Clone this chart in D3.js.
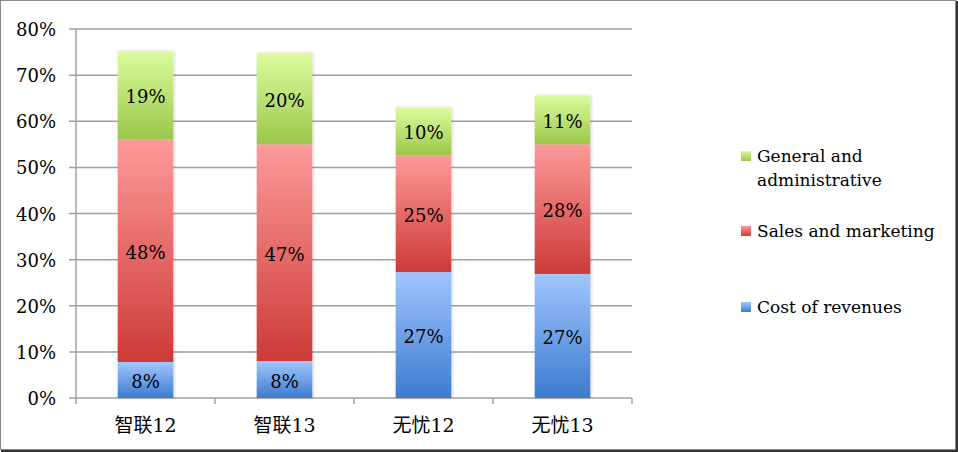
<!DOCTYPE html>
<html><head><meta charset="utf-8">
<script src="https://cdn.jsdelivr.net/npm/d3@7"></script>
<style>
html,body{margin:0;padding:0;background:#fff;}
svg{display:block;}
text{font-family:"DejaVu Serif","Noto Sans CJK SC",serif;fill:#000;}
</style></head>
<body>
<svg id="chart" width="958" height="452"></svg>
<script>
const categories = ["智联12", "智联13", "无忧12", "无忧13"];
const costOfRevenues = [0.078, 0.080, 0.273, 0.269];
const salesMarketing = [0.483, 0.470, 0.253, 0.281];
const generalAdmin = [0.191, 0.198, 0.104, 0.106];
const seriesNames = ["Cost of revenues", "Sales and marketing", "General and administrative"];
const yTicks = [0, 0.1, 0.2, 0.3, 0.4, 0.5, 0.6, 0.7, 0.8];

(function () {
const svg = d3.select("#chart");
const pL = 76, pR = 632, pT = 29, pB = 398;

const defs = svg.append("defs");
const grads = [
  {id: "gBlue", top: "#a0c6ff", bot: "#3d7bce"},
  {id: "gRed", top: "#fd9a9a", bot: "#cd3a37"},
  {id: "gGreen", top: "#dcfc9e", bot: "#9bc74a"}
];
grads.forEach(g => {
  const lg = defs.append("linearGradient").attr("id", g.id)
    .attr("x1", 0).attr("y1", 0).attr("x2", 0).attr("y2", 1);
  lg.append("stop").attr("offset", "0%").attr("stop-color", g.top);
  lg.append("stop").attr("offset", "100%").attr("stop-color", g.bot);
});
const f = defs.append("filter").attr("id", "shadow")
  .attr("x", "-20%").attr("y", "-10%").attr("width", "140%").attr("height", "120%");
f.append("feDropShadow").attr("dx", 1).attr("dy", 0).attr("stdDeviation", 1.5)
  .attr("flood-color", "#000").attr("flood-opacity", 0.18);

// frame
svg.append("rect").attr("x", 0.5).attr("y", 0.5).attr("width", 955).attr("height", 449)
  .attr("fill", "none").attr("stroke", "#8a8a8a").attr("stroke-width", 1);
svg.append("line").attr("x1", 957).attr("x2", 957).attr("y1", 1).attr("y2", 452)
  .attr("stroke", "#333").attr("stroke-width", 2);
svg.append("line").attr("x1", 1).attr("x2", 958).attr("y1", 451).attr("y2", 451)
  .attr("stroke", "#333").attr("stroke-width", 2);

const x = d3.scaleBand().domain(categories).range([pL, pR]).paddingInner(0.6).paddingOuter(0.3);
const y = d3.scaleLinear().domain([0, 0.8]).range([pB, pT]);

svg.append("g").selectAll("line").data(yTicks).join("line")
  .attr("x1", pL - 7).attr("x2", pR)
  .attr("y1", d => y(d)).attr("y2", d => y(d))
  .attr("stroke", "#a0a0a0").attr("stroke-width", 1.5);
svg.append("line").attr("x1", pL).attr("x2", pL).attr("y1", pT).attr("y2", pB)
  .attr("stroke", "#a0a0a0").attr("stroke-width", 1.5);
const fmt = d3.format(".0%");
svg.append("g").selectAll("text").data(yTicks).join("text")
  .attr("x", 56).attr("y", d => y(d) + 7)
  .attr("text-anchor", "end").attr("font-size", 18)
  .text(d => fmt(d));

const bounds = d3.range(categories.length + 1).map(i => pL + i * (pR - pL) / categories.length);
svg.append("g").selectAll("line").data(bounds).join("line")
  .attr("x1", d => d).attr("x2", d => d).attr("y1", pB).attr("y2", pB + 6)
  .attr("stroke", "#a0a0a0").attr("stroke-width", 1.5);
svg.append("g").selectAll("text").data(categories).join("text")
  .attr("x", d => x(d) + x.bandwidth() / 2).attr("y", 432)
  .attr("text-anchor", "middle").attr("font-size", 19)
  .text(d => d);

const rows = categories.map((c, i) => ({cat: c, cost: costOfRevenues[i], sales: salesMarketing[i], ga: generalAdmin[i]}));
const keys = ["cost", "sales", "ga"];
const stack = d3.stack().keys(keys)(rows);
const fills = ["url(#gBlue)", "url(#gRed)", "url(#gGreen)"];

const barG = svg.append("g").attr("filter", "url(#shadow)");
stack.forEach((s, si) => {
  barG.append("g").selectAll("rect").data(s).join("rect")
    .attr("x", d => x(d.data.cat)).attr("width", x.bandwidth())
    .attr("y", d => y(d[1])).attr("height", d => y(d[0]) - y(d[1]))
    .attr("fill", fills[si]);
});
stack.forEach((s, si) => {
  svg.append("g").selectAll("text").data(s).join("text")
    .attr("x", d => x(d.data.cat) + x.bandwidth() / 2)
    .attr("y", d => (y(d[0]) + y(d[1])) / 2 + 8)
    .attr("text-anchor", "middle").attr("font-size", 18)
    .text(d => fmt(d[1] - d[0]));
});

const legendItems = [
  {fill: "url(#gGreen)", lines: ["General and", "administrative"], y: 156},
  {fill: "url(#gRed)", lines: [seriesNames[1]], y: 231},
  {fill: "url(#gBlue)", lines: [seriesNames[0]], y: 307}
];
const lg = svg.append("g");
legendItems.forEach(it => {
  lg.append("rect").attr("x", 741).attr("y", it.y - 5).attr("width", 10).attr("height", 10).attr("fill", it.fill);
  const t = lg.append("text").attr("x", 757).attr("y", it.y + 6).attr("font-size", 17);
  it.lines.forEach((l, i) => t.append("tspan").attr("x", 757).attr("dy", i === 0 ? 0 : 24).text(l));
});
})();
</script>
</body></html>
